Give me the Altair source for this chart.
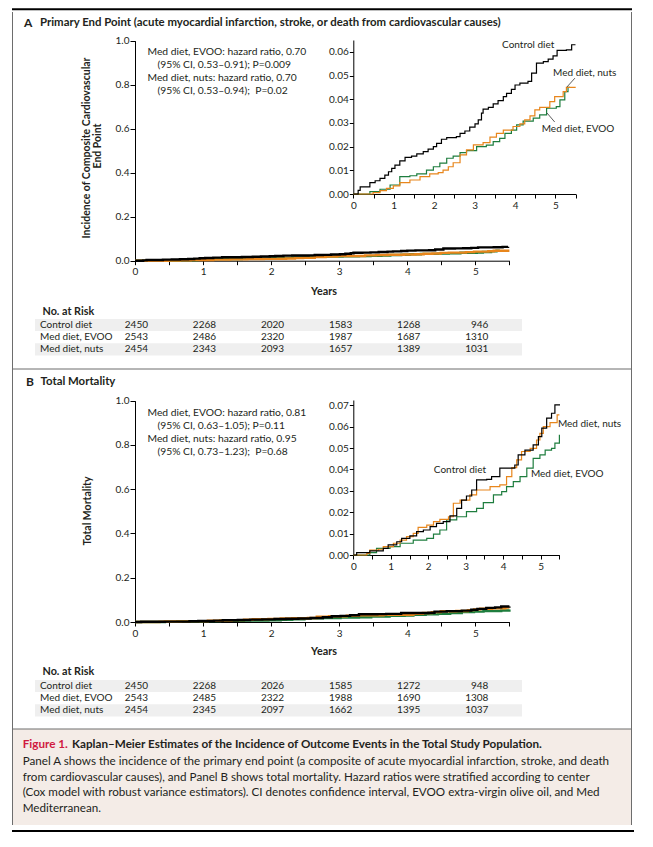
import altair as alt
import pandas as pd

W, H = 637, 826
FONT = "Lato"
TXT = "#231f20"
C_CTRL, C_EVOO, C_NUTS = "#000000", "#1e7d3e", "#e8861c"

# ---------------- data ----------------
A_CTRL_T = [0, 0.12, 0.17, 0.41, 0.54, 0.66, 0.78, 0.87, 0.95, 1.03, 1.15, 1.28, 1.44, 1.57, 1.73, 1.85, 1.98, 2.06, 2.18, 2.31, 2.55, 2.64, 2.76, 2.88, 3.01, 3.09, 3.17, 3.21, 3.34, 3.46, 3.58, 3.71, 3.79, 3.91, 4.0, 4.12, 4.32, 4.41, 4.53, 4.7, 4.82, 4.94, 5.04, 5.27, 5.4, 5.48]
A_CTRL_V = [0, 0.0015, 0.003, 0.0048, 0.0056, 0.0066, 0.008, 0.0094, 0.0108, 0.0122, 0.014, 0.0155, 0.016, 0.0169, 0.0179, 0.0189, 0.02, 0.0214, 0.0231, 0.0238, 0.0242, 0.0256, 0.0266, 0.0282, 0.0296, 0.0313, 0.0341, 0.0358, 0.0366, 0.038, 0.0394, 0.0411, 0.0425, 0.0442, 0.046, 0.0468, 0.0475, 0.051, 0.0552, 0.0559, 0.0569, 0.0583, 0.0606, 0.0608, 0.063, 0.0632]
A_NUTS_T = [0, 0.49, 0.66, 0.82, 0.99, 1.15, 1.4, 1.65, 1.89, 2.1, 2.22, 2.35, 2.47, 2.64, 2.8, 2.97, 3.21, 3.38, 3.54, 3.71, 3.95, 4.12, 4.24, 4.37, 4.49, 4.61, 4.86, 4.98, 5.19, 5.27, 5.5]
A_NUTS_V = [0, 0.0006, 0.0014, 0.0024, 0.0034, 0.0048, 0.0059, 0.0073, 0.0085, 0.009, 0.0101, 0.0115, 0.0132, 0.0165, 0.0186, 0.0207, 0.0217, 0.024, 0.0256, 0.027, 0.0285, 0.0296, 0.0313, 0.033, 0.0355, 0.0366, 0.039, 0.0411, 0.0432, 0.045, 0.045]
A_EVOO_T = [0, 0.41, 0.66, 0.91, 1.15, 1.4, 1.57, 1.81, 1.98, 2.14, 2.31, 2.47, 2.64, 2.8, 3.05, 3.29, 3.46, 3.62, 3.75, 3.91, 4.04, 4.2, 4.45, 4.61, 4.78, 5.02, 5.11, 5.23, 5.31, 5.36]
A_EVOO_V = [0, 0.001, 0.002, 0.0038, 0.0073, 0.0077, 0.0085, 0.0101, 0.0115, 0.013, 0.0151, 0.016, 0.0175, 0.0183, 0.02, 0.0206, 0.0221, 0.0235, 0.0256, 0.027, 0.0292, 0.0308, 0.032, 0.0334, 0.0362, 0.0369, 0.0397, 0.0432, 0.045, 0.045]

B_CTRL_T = [0, 0.09, 0.44, 0.8, 0.93, 1.16, 1.29, 1.51, 1.69, 1.87, 2.05, 2.22, 2.4, 2.58, 2.76, 2.89, 3.02, 3.16, 3.29, 3.56, 3.69, 3.91, 4.23, 4.31, 4.4, 4.58, 4.8, 4.94, 5.03, 5.16, 5.29, 5.38, 5.5]
B_CTRL_V = [0, 0.0011, 0.0019, 0.0031, 0.0047, 0.0062, 0.0078, 0.0089, 0.0109, 0.0117, 0.0133, 0.0148, 0.0156, 0.0183, 0.0218, 0.0257, 0.0276, 0.0304, 0.0351, 0.0354, 0.0367, 0.0406, 0.0406, 0.0421, 0.0468, 0.0491, 0.0515, 0.0554, 0.0593, 0.064, 0.0663, 0.0702, 0.0705]
B_NUTS_T = [0, 0.36, 0.44, 0.67, 0.8, 1.07, 1.25, 1.42, 1.6, 1.73, 1.96, 2.14, 2.31, 2.54, 2.67, 2.85, 3.11, 3.29, 3.65, 3.91, 4.09, 4.23, 4.36, 4.49, 4.72, 4.89, 4.98, 5.07, 5.25, 5.44, 5.5]
B_NUTS_V = [0, 0.0008, 0.0023, 0.0027, 0.0039, 0.0055, 0.007, 0.0086, 0.0101, 0.0129, 0.014, 0.0156, 0.0167, 0.0179, 0.0242, 0.0257, 0.0281, 0.0304, 0.032, 0.0328, 0.0367, 0.0409, 0.0445, 0.0484, 0.0499, 0.0538, 0.0569, 0.06, 0.0619, 0.0655, 0.0655]
B_EVOO_T = [0, 0.44, 0.62, 0.98, 1.25, 1.6, 1.96, 2.14, 2.31, 2.49, 2.76, 3.02, 3.29, 3.47, 3.74, 3.96, 4.09, 4.27, 4.45, 4.63, 4.8, 4.98, 5.12, 5.29, 5.38, 5.5]
B_EVOO_V = [0, 0.0011, 0.0031, 0.0039, 0.0055, 0.007, 0.0078, 0.0098, 0.0117, 0.0164, 0.0179, 0.0203, 0.0218, 0.0245, 0.0281, 0.0296, 0.032, 0.0343, 0.0367, 0.0406, 0.0452, 0.0468, 0.0491, 0.0499, 0.0523, 0.0562]

GROUPS = ["Control diet", "Med diet, EVOO", "Med diet, nuts"]
RISK_YEARS = [0, 1, 2, 3, 4, 5]
A_RISK = {"Control diet": [2450, 2268, 2020, 1583, 1268, 946],
          "Med diet, EVOO": [2543, 2486, 2320, 1987, 1687, 1310],
          "Med diet, nuts": [2454, 2343, 2093, 1657, 1389, 1031]}
B_RISK = {"Control diet": [2450, 2268, 2026, 1585, 1272, 948],
          "Med diet, EVOO": [2543, 2485, 2322, 1988, 1690, 1308],
          "Med diet, nuts": [2454, 2345, 2097, 1662, 1395, 1037]}

X_TICKS = [0, 0.5, 1, 1.5, 2, 2.5, 3, 3.5, 4, 4.5, 5, 5.5]
MAIN_Y_TICKS = [0, 0.2, 0.4, 0.6, 0.8, 1.0]
A_INS_Y_TICKS = [0, 0.01, 0.02, 0.03, 0.04, 0.05, 0.06]
B_INS_Y_TICKS = [0, 0.01, 0.02, 0.03, 0.04, 0.05, 0.06, 0.07]

# ---------------- layout frames (pixel ranges of each plot) ----------------
OX, OY = 8, 8
def cx(x): return x - OX
def cy(y): return y - OY

FR = {
    "A_main": dict(xd=[0, 5.5], xr=[cx(135), cx(509.4)], yd=[0, 1], yr=[cy(260.7), cy(40.7)],
                   yt=MAIN_Y_TICKS, fmt=".1f", ts=5),
    "A_ins": dict(xd=[0, 5.5], xr=[cx(353.3), cx(575.7)], yd=[0, 0.065], yr=[cy(194), cy(40)],
                  yt=A_INS_Y_TICKS, fmt=".2f", ts=4),
    "B_main": dict(xd=[0, 5.5], xr=[cx(135), cx(509.4)], yd=[0, 1], yr=[cy(622), cy(400.7)],
                   yt=MAIN_Y_TICKS, fmt=".1f", ts=5),
    "B_ins": dict(xd=[0, 5.5], xr=[cx(353.3), cx(559.4)], yd=[0, 0.0725], yr=[cy(555), cy(400)],
                  yt=B_INS_Y_TICKS, fmt=".2f", ts=4),
}

def xs(f):
    return alt.Scale(domain=f["xd"], range=f["xr"], nice=False, zero=False)

def ys(f):
    return alt.Scale(domain=f["yd"], range=f["yr"], nice=False, zero=False)

def curve(key, t, v, color, width, axes=False):
    f = FR[key]
    df = pd.DataFrame({"t": t, "v": v})
    if axes:
        xax = alt.Axis(orient="bottom", offset=f["yr"][0] - H, values=X_TICKS,
                       labelExpr="datum.value % 1 === 0 ? format(datum.value, 'd') : ''",
                       tickSize=4, labelPadding=2, labelFlush=False, labelOverlap=False,
                       title=None, grid=False)
        yax = alt.Axis(orient="left", offset=-f["xr"][0], values=f["yt"], format=f["fmt"],
                       tickSize=f["ts"], labelPadding=1, labelOverlap=False, title=None, grid=False)
    else:
        xax = None
        yax = None
    return alt.Chart(df).mark_line(interpolate="step-after", color=color, strokeWidth=width).encode(
        x=alt.X("t:Q", scale=xs(f), axis=xax),
        y=alt.Y("v:Q", scale=ys(f), axis=yax),
    )

ONE = alt.Data(values=[{}])

def txt(s, x, y, size=10, weight="normal", color=TXT, align="left", angle=0):
    kw = dict(text=s, font=FONT, fontSize=size, fontWeight=weight, color=color,
              align=align, baseline="middle")
    if angle:
        kw["angle"] = angle
    return alt.Chart(ONE).mark_text(**kw).encode(x=alt.value(x), y=alt.value(y))

def hline(x1, x2, y, color="#6d6d6d", w=1):
    return alt.Chart(ONE).mark_rule(color=color, strokeWidth=w).encode(
        x=alt.value(x1), x2=alt.value(x2), y=alt.value(y))

def vline(x, y1, y2, color="#6d6d6d", w=1):
    return alt.Chart(ONE).mark_rule(color=color, strokeWidth=w).encode(
        x=alt.value(x), y=alt.value(y1), y2=alt.value(y2))

def box(x1, x2, y1, y2, color):
    return alt.Chart(ONE).mark_rect(color=color).encode(
        x=alt.value(x1), x2=alt.value(x2), y=alt.value(y1), y2=alt.value(y2))

def data_label(key, s, t, v, size=10):
    f = FR[key]
    df = pd.DataFrame({"t": [t], "v": [v], "s": [s]})
    return alt.Chart(df).mark_text(font=FONT, fontSize=size, color=TXT, align="left",
                                   baseline="middle").encode(
        x=alt.X("t:Q", scale=xs(f), axis=None),
        y=alt.Y("v:Q", scale=ys(f), axis=None),
        text="s:N")

def leader(key, t1, v1, t2, v2):
    f = FR[key]
    df = pd.DataFrame({"t": [t1], "v": [v1], "t2": [t2], "v2": [v2]})
    return alt.Chart(df).mark_rule(color="#333333", strokeWidth=0.8).encode(
        x=alt.X("t:Q", scale=xs(f), axis=None), x2="t2:Q",
        y=alt.Y("v:Q", scale=ys(f), axis=None), y2="v2:Q")

def risk_table(risk, rows_y, head_y):
    layers = []
    step = rows_y[1] - rows_y[0]
    for i in (0, 2):
        layers.append(box(cx(35), cx(522), rows_y[i] - step / 2, rows_y[i] + step / 2, "#efefef"))
    layers.append(txt("No. at Risk", cx(42.5), head_y, size=10.8, weight="bold"))
    recs = []
    for g in GROUPS:
        for yr, n in zip(RISK_YEARS, risk[g]):
            recs.append({"g": g, "t": yr, "n": str(n)})
    df = pd.DataFrame(recs)
    rowscale = alt.Scale(type="point", domain=GROUPS, range=[rows_y[0], rows_y[2]], padding=0)
    layers.append(alt.Chart(df).mark_text(font=FONT, fontSize=10, color=TXT, align="right",
                                          baseline="middle", dx=13).encode(
        x=alt.X("t:Q", scale=xs(FR["A_main"]), axis=None),
        y=alt.Y("g:N", scale=rowscale, axis=None),
        text="n:N"))
    dfl = pd.DataFrame({"g": GROUPS})
    layers.append(alt.Chart(dfl).mark_text(font=FONT, fontSize=10, color=TXT, align="left",
                                           baseline="middle").encode(
        x=alt.value(cx(40)),
        y=alt.Y("g:N", scale=rowscale, axis=None),
        text="g:N"))
    return layers

layers = []
# frame
layers.append(box(cx(12.5), cx(631.5), cy(729), cy(825), "#f4ece7"))
layers.append(hline(cx(12), cx(632), 1.2, color="#000000", w=2))
layers.append(vline(cx(12.5), cy(12), cy(825)))
layers.append(vline(cx(631.5), cy(12), cy(825)))
layers.append(hline(cx(12.5), cx(631.5), cy(369)))
layers.append(hline(cx(12.5), cx(631.5), cy(729)))
layers.append(hline(cx(12), cx(634), cy(831), color="#000000", w=2))

# panel titles
layers.append(txt("A", cx(24), cy(23), size=12, weight="bold"))
layers.append(txt("Primary End Point (acute myocardial infarction, stroke, or death from cardiovascular causes)",
                  cx(40), cy(23), size=11.4, weight="bold"))
layers.append(txt("B", cx(26), cy(382), size=12, weight="bold"))
layers.append(txt("Total Mortality", cx(40.5), cy(382), size=11.4, weight="bold"))

# axis titles
layers.append(txt("Incidence of Composite Cardiovascular", cx(86.7), cy(148), size=10.5, weight="bold",
                  align="center", angle=270))
layers.append(txt("End Point", cx(97.7), cy(146), size=10.5, weight="bold", align="center", angle=270))
layers.append(txt("Total Mortality", cx(88), cy(511), size=10.5, weight="bold", align="center", angle=270))
layers.append(txt("Years", cx(324), cy(291.7), size=10.8, weight="bold", align="center"))
layers.append(txt("Years", cx(324), cy(652.3), size=10.8, weight="bold", align="center"))

# hazard ratio notes
NB = "\u00a0"
for (s, x, y) in [("Med diet, EVOO: hazard ratio, 0.70", 147.5, 52),
                  ("(95% CI, 0.53\u20130.91); P=0.009", 157.5, 65),
                  ("Med diet, nuts: hazard ratio, 0.70", 147.5, 78),
                  ("(95% CI, 0.53\u20130.94);" + NB + " P=0.02", 157.5, 90.7),
                  ("Med diet, EVOO: hazard ratio, 0.81", 147.5, 412.7),
                  ("(95% CI, 0.63\u20131.05); P=0.11", 157.5, 425.7),
                  ("Med diet, nuts: hazard ratio, 0.95", 147.5, 438.7),
                  ("(95% CI, 0.73\u20131.23);" + NB + " P=0.68", 157.5, 451.7)]:
    layers.append(txt(s, cx(x), cy(y), size=10.3))

# curves: main (thick) and inset (thin)
for panel, series in [("A", [(A_EVOO_T, A_EVOO_V, C_EVOO), (A_NUTS_T, A_NUTS_V, C_NUTS), (A_CTRL_T, A_CTRL_V, C_CTRL)]),
                      ("B", [(B_EVOO_T, B_EVOO_V, C_EVOO), (B_NUTS_T, B_NUTS_V, C_NUTS), (B_CTRL_T, B_CTRL_V, C_CTRL)])]:
    for i, (t, v, c) in enumerate(series):
        layers.append(curve(panel + "_main", t, v, c, 2.4, axes=(i == 0)))
    for i, (t, v, c) in enumerate(series):
        layers.append(curve(panel + "_ins", t, v, c, 1.2, axes=(i == 0)))

# inset labels
layers.append(data_label("A_ins", "Control diet", 3.68, 0.0629))
layers.append(data_label("A_ins", "Med diet, nuts", 4.94, 0.0512))
layers.append(data_label("A_ins", "Med diet, EVOO", 4.66, 0.0274))
layers.append(leader("A_ins", 5.48, 0.0489, 5.28, 0.0451))
layers.append(leader("A_ins", 4.98, 0.0304, 4.79, 0.0342))
layers.append(data_label("B_ins", "Med diet, nuts", 5.46, 0.0612))
layers.append(data_label("B_ins", "Control diet", 2.15, 0.0397))
layers.append(data_label("B_ins", "Med diet, EVOO", 4.74, 0.0379))

# risk tables
layers += risk_table(A_RISK, [cy(325), cy(337.2), cy(349.4)], cy(311.7))
layers += risk_table(B_RISK, [cy(686), cy(698.2), cy(710.4)], cy(672.3))

# caption
layers.append(txt("Figure 1.", cx(22.7), cy(744), size=11.7, weight="bold", color="#d0193f"))
layers.append(txt("Kaplan\u2013Meier Estimates of the Incidence of Outcome Events in the Total Study Population.",
                  cx(72), cy(744), size=11.7, weight="bold"))
CAPTION = ["Panel A shows the incidence of the primary end point (a composite of acute myocardial infarction, stroke, and death",
           "from cardiovascular causes), and Panel B shows total mortality. Hazard ratios were stratified according to center",
           "(Cox model with robust variance estimators). CI denotes confidence interval, EVOO extra-virgin olive oil, and Med",
           "Mediterranean."]
for line, y in zip(CAPTION, [762, 777.5, 793, 808.5]):
    layers.append(txt(line, cx(22.7), cy(y), size=11.65))

chart = alt.layer(*layers).resolve_scale(x="independent", y="independent").properties(
    width=W, height=H, autosize=alt.AutoSizeParams(type="none"), padding=0
).configure_view(stroke=None).configure_axis(
    labelFont=FONT, labelFontSize=10, labelColor=TXT, domainColor="#000000", tickColor="#000000",
    domainWidth=1, tickWidth=1, grid=False
)

chart.save("out.html", embed_options={"renderer": "svg", "actions": False})
